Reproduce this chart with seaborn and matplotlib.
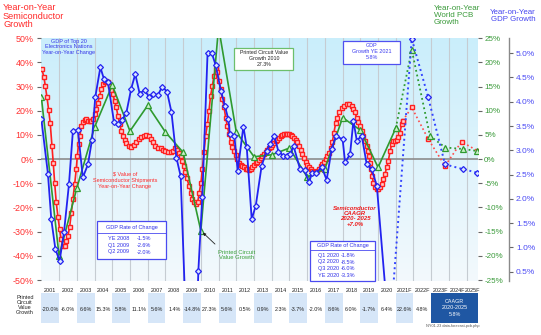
import numpy as np
import matplotlib
matplotlib.use("Agg")
import matplotlib.pyplot as plt
import seaborn as sns
from matplotlib.patches import Rectangle, FancyArrowPatch
from matplotlib.lines import Line2D

# ---------------- data ----------------
# Semiconductor $ shipments, year-on-year growth (%), monthly readings
semi_x = [2001.03, 2001.15, 2001.22, 2001.32, 2001.41, 2001.50, 2001.60, 2001.67, 2001.75, 2001.84, 2001.94,
          2002.03, 2002.12, 2002.22, 2002.31, 2002.41, 2002.50, 2002.60, 2002.69, 2002.78, 2002.88, 2002.97,
          2003.03, 2003.10, 2003.18, 2003.25, 2003.35, 2003.44, 2003.54, 2003.63, 2003.73, 2003.82, 2003.91,
          2004.01, 2004.10, 2004.19, 2004.29, 2004.38, 2004.48, 2004.57, 2004.66, 2004.76, 2004.85, 2004.95,
          2005.04, 2005.13, 2005.23, 2005.32, 2005.42, 2005.51, 2005.61, 2005.70, 2005.80, 2005.93,
          2006.08, 2006.23, 2006.36, 2006.49, 2006.64, 2006.79, 2006.92,
          2007.05, 2007.17, 2007.30, 2007.43, 2007.58, 2007.73, 2007.86, 2007.99,
          2008.14, 2008.29, 2008.43, 2008.56, 2008.67, 2008.77, 2008.86, 2008.94,
          2009.03, 2009.12, 2009.22, 2009.33, 2009.44, 2009.52, 2009.63, 2009.72, 2009.82, 2009.91,
          2010.01, 2010.08, 2010.18, 2010.27, 2010.37, 2010.46, 2010.55, 2010.65, 2010.74, 2010.83, 2010.93,
          2011.02, 2011.12, 2011.21, 2011.31, 2011.40, 2011.49, 2011.59, 2011.68, 2011.78, 2011.87, 2011.97,
          2012.06, 2012.15, 2012.25, 2012.34, 2012.44, 2012.53, 2012.62, 2012.72, 2012.81, 2012.91,
          2013.00, 2013.10, 2013.19, 2013.28, 2013.38, 2013.47, 2013.56, 2013.66, 2013.75, 2013.85, 2013.94,
          2014.03, 2014.13, 2014.22, 2014.32, 2014.41, 2014.51, 2014.60, 2014.69, 2014.79, 2014.88, 2014.98,
          2015.07, 2015.16, 2015.26, 2015.35, 2015.45, 2015.54, 2015.64, 2015.73, 2015.82, 2015.92,
          2016.01, 2016.11, 2016.20, 2016.29, 2016.39, 2016.48, 2016.57, 2016.67, 2016.76, 2016.85, 2016.95,
          2017.04, 2017.14, 2017.23, 2017.33, 2017.42, 2017.51, 2017.61, 2017.70, 2017.81, 2017.95,
          2018.08, 2018.23, 2018.38, 2018.51, 2018.60, 2018.70, 2018.79, 2018.89, 2018.98,
          2019.07, 2019.17, 2019.26, 2019.36, 2019.45, 2019.51, 2019.54, 2019.60, 2019.66, 2019.73, 2019.83, 2019.92,
          2020.02, 2020.11, 2020.20, 2020.30, 2020.39, 2020.49, 2020.58, 2020.68, 2020.77, 2020.87, 2020.96,
          2021.05, 2021.15, 2021.24, 2021.33, 2021.39]
semi_y = [37.2, 33.8, 30.3, 25.5, 20.4, 14.9, 5.5, -1.4, -9.7, -17.9, -24.1,
          -29.0, -33.1, -35.9, -36.1, -33.8, -31.7, -27.9, -22.1, -16.6, -10.3, -4.1,
          1.4, 6.2, 9.7, 13.8, 15.4, 16.3, 16.6, 15.9, 15.6, 15.6, 16.8,
          18.6, 20.7, 23.4, 26.2, 29.0, 31.0, 32.0, 32.4, 31.7, 30.1, 28.7,
          26.9, 24.1, 21.4, 17.9, 14.5, 11.7, 9.7, 8.0, 6.6, 5.5,
          5.1, 5.8, 7.2, 8.3, 9.1, 9.7, 9.8,
          9.4, 8.3, 6.9, 5.5, 4.8, 4.4, 3.9, 3.4,
          3.0, 2.8, 3.4, 4.4, 3.9, 2.5, 1.1, -0.7,
          -3.0, -5.5, -8.0, -11.0, -13.8, -16.6, -17.9, -18.6, -17.9, -13.8,
          -9.7, -4.1, 2.8, 9.7, 14.5, 20.0, 26.2, 30.3, 34.5, 37.2, 35.9,
          32.4, 29.0, 24.8, 21.4, 17.2, 13.8, 10.3, 7.2, 5.2, 3.4, 1.7,
          0.0, -1.4, -2.3, -3.0, -3.4, -3.9, -4.1, -4.4, -4.1, -3.4,
          -2.5, -1.7, -1.0, -0.3, 0.6, 1.4, 2.2, 3.0, 3.7, 4.4, 5.1,
          5.9, 6.6, 7.4, 8.1, 8.8, 9.4, 9.9, 10.2, 10.3, 10.3, 10.2,
          9.9, 9.4, 8.7, 7.9, 6.9, 5.5, 3.9, 2.1, 0.4, -1.1,
          -2.3, -3.2, -3.9, -4.7, -5.2, -5.5, -5.1, -4.1, -3.0, -2.1, -1.0,
          0.0, 1.1, 2.5, 4.5, 7.0, 11.0, 14.9, 17.2, 19.3, 21.0,
          22.1, 22.8, 22.8, 22.1, 20.7, 19.3, 17.2, 15.4, 13.8,
          11.7, 9.7, 7.6, 5.5, 3.4, 1.4, -1.4, -4.1, -6.9, -9.7, -11.7, -12.4,
          -12.4, -11.7, -10.3, -8.3, -6.2, -3.4, -0.7, 3.4, 6.2, 7.6, 7.6,
          8.0, 9.0, 11.0, 14.5, 15.9]
semi_fc_x = [2021.39, 2021.90, 2022.83, 2023.78, 2024.71, 2025.62]
semi_fc_y = [15.9, 21.4, 8.3, -2.8, 7.2, 3.4]

# World PCB growth (%), annual values plotted at year end
pcb_x = [2001.0, 2002.0, 2003.0, 2004.0, 2005.0, 2006.0, 2007.0, 2008.0, 2009.0, 2010.0, 2011.0,
         2012.0, 2013.0, 2014.0, 2015.0, 2016.0, 2017.0, 2018.0, 2019.0, 2020.0, 2021.0]
pcb_y = [12.8, -20.0, -6.0, 6.6, 15.3, 5.8, 11.1, 5.6, 1.4, -14.8, 27.3,
         5.6, 0.5, 0.9, 2.3, -3.7, -2.0, 8.6, 6.0, -1.7, 6.4]
pcb_fc_x = [2021.0, 2021.90, 2022.93, 2023.80, 2024.80, 2025.56]
pcb_fc_y = [6.4, 22.6, 4.8, 2.4, 2.1, 1.7]

# GDP of top 20 electronics nations, year-on-year (%), quarterly readings
gdp_x = [2001.00, 2001.37, 2001.56, 2001.79, 2002.03, 2002.28, 2002.56, 2002.78, 2003.06, 2003.34,
         2003.63, 2003.86, 2004.04, 2004.33, 2004.53, 2004.76, 2005.10, 2005.32, 2005.56, 2005.79,
         2006.07, 2006.30, 2006.55, 2006.83, 2007.08, 2007.30, 2007.58, 2007.82, 2008.09, 2008.34,
         2008.62, 2008.86, 2009.25, 2009.45, 2009.65, 2009.86, 2010.08, 2010.38, 2010.61, 2010.84,
         2011.13, 2011.36, 2011.55, 2011.64, 2011.89, 2012.08, 2012.40, 2012.59, 2012.87, 2013.10,
         2013.43, 2013.71, 2013.90, 2014.15, 2014.38, 2014.66, 2014.85, 2015.04, 2015.23, 2015.60,
         2015.85, 2016.11, 2016.27, 2016.51, 2016.83, 2017.10, 2017.38, 2017.62, 2018.00, 2018.14,
         2018.42, 2018.61, 2018.80, 2019.08, 2019.36, 2019.64, 2019.93, 2020.85]
gdp_y = [3.64, 2.52, 1.58, 0.97, 0.72, 1.32, 2.31, 3.40, 3.42, 2.44,
         2.71, 3.22, 4.09, 4.71, 4.47, 4.40, 3.58, 3.54, 3.63, 3.76,
         4.27, 4.57, 4.16, 4.25, 4.09, 4.16, 4.14, 4.31, 4.21, 3.79,
         2.85, 2.47, -1.5, -2.6, -2.0, 0.52, 2.03, 5.01, 5.01, 4.75,
         4.23, 3.91, 3.64, 3.33, 3.30, 2.58, 3.49, 3.06, 1.58, 1.86,
         2.68, 2.99, 3.13, 3.30, 2.97, 2.89, 2.89, 2.92, 3.09, 2.61,
         2.59, 2.34, 2.53, 2.54, 2.65, 2.39, 3.02, 3.29, 3.23, 2.75,
         2.92, 3.61, 3.20, 3.30, 2.71, 2.61, 2.27, -1.8]
gdp_fc_x = [2020.15, 2021.90, 2022.83, 2023.78, 2024.81, 2025.60]
gdp_fc_y = [-3.3, 5.3, 4.09, 2.71, 2.61, 2.54]

# bottom table
table_years = list(range(2001, 2026))
table_labels = [str(y) for y in range(2001, 2021)] + ["2021F", "2022F", "2023F", "2024F", "2025F"]
table_values = [-20.0, -6.0, 6.6, 15.3, 5.8, 11.1, 5.6, 1.4, -14.8, 27.3, 5.6, 0.5, 0.9, 2.3,
                -3.7, -2.0, 8.6, 6.0, -1.7, 6.4, 22.6, 4.8]

semi_ticks = list(range(-50, 51, 10))
pcb_ticks = list(range(-25, 26, 5))
gdp_ticks = [0.5, 1.0, 1.5, 2.0, 2.5, 3.0, 3.5, 4.0, 4.5, 5.0]

# ---------------- styling ----------------
sns.set_theme(style="white")
plt.rcParams['font.family'] = ['Liberation Sans', 'DejaVu Sans']

RED = '#ff2020'
GREEN = '#2f9a2f'
BLUE = '#2222f0'
W, H = 541, 335
fig = plt.figure(figsize=(W / 100, H / 100), dpi=100)


def fx(px):
    return px / W


def fy(py):
    return 1 - py / H


PL, PR, PT, PB = 41, 478, 38, 281
XMIN, XMAX = 2000.98, 2025.64
ax = fig.add_axes([fx(PL), fy(PB), (PR - PL) / W, (PB - PT) / H])
ax.set_zorder(1)

# gradient background
top = np.array([202, 238, 251]) / 255
bot = np.array([243, 249, 253]) / 255
t = np.linspace(0, 1, 200)[:, None, None]
grad = top * (1 - t) + bot * t
ax.imshow(grad, extent=[XMIN, XMAX, -50.4, 50.1], aspect='auto', zorder=0, interpolation='bilinear')
ax.set_xlim(XMIN, XMAX)
ax.set_ylim(-50.4, 50.1)
for yr in range(2002, 2026):
    ax.axvline(yr, color='#c6ccd2', lw=0.8, zorder=1)
ax.axhline(0, color='#8c8c8c', lw=1.2, zorder=2)

ax2 = ax.twinx()
ax2.set_ylim(-25.2, 25.05)
ax3 = ax.twinx()
ax3.set_ylim(0.308, 5.313)
for a in (ax2, ax3):
    a.set_xlim(XMIN, XMAX)

# series
sns.lineplot(x=pcb_x, y=pcb_y, ax=ax2, color=GREEN, lw=1.2, marker='^', markersize=4.4,
             markerfacecolor='#c8f0c8', markeredgecolor=GREEN, markeredgewidth=0.9,
             estimator=None, sort=False, zorder=3)
sns.lineplot(x=pcb_fc_x, y=pcb_fc_y, ax=ax2, color=GREEN, lw=1.3, linestyle=':', marker='^', markersize=4.4,
             markerfacecolor='#c8f0c8', markeredgecolor=GREEN, markeredgewidth=0.9,
             estimator=None, sort=False, zorder=3)

sns.lineplot(x=semi_x, y=semi_y, ax=ax, color=RED, lw=1.2, marker='s', markersize=3.5,
             markerfacecolor='#ffcccc', markeredgecolor=RED, markeredgewidth=1.0,
             estimator=None, sort=False, zorder=4)
sns.lineplot(x=semi_fc_x, y=semi_fc_y, ax=ax, color='#ff4a4a', lw=1.2, linestyle=':', marker='s', markersize=3.5,
             markerfacecolor='#ffcccc', markeredgecolor=RED, markeredgewidth=1.0,
             estimator=None, sort=False, zorder=4)

sns.lineplot(x=gdp_x, y=gdp_y, ax=ax3, color=BLUE, lw=1.3, marker='D', markersize=3.0,
             markerfacecolor='#d8e4ff', markeredgecolor=BLUE, markeredgewidth=0.9,
             estimator=None, sort=False, zorder=5)
sns.lineplot(x=gdp_fc_x, y=gdp_fc_y, ax=ax3, color='#3344ff', lw=1.4, linestyle=':', marker='D', markersize=3.0,
             markerfacecolor='#d8e4ff', markeredgecolor=BLUE, markeredgewidth=0.9,
             estimator=None, sort=False, zorder=5)

# axes / ticks
for a in (ax, ax2, ax3):
    a.set_xticks([])
    a.set_xlabel('')
    a.set_ylabel('')
    for s in a.spines.values():
        s.set_visible(False)
    a.grid(False)

ax.set_yticks(semi_ticks)
ax.set_yticklabels([f"{v}%" for v in semi_ticks])
ax.tick_params(axis='y', left=True, length=3, width=0.8, color='#666666', labelcolor='#ff3030',
               labelsize=6.4, pad=2.5)

ax2.set_yticks(pcb_ticks)
ax2.set_yticklabels([f"{v}%" for v in pcb_ticks])
ax2.tick_params(axis='y', right=True, length=3, width=0.8, color='#666666', labelcolor='#3a9a3a',
                labelsize=5.8, pad=1.5)

ax3.spines['right'].set_visible(True)
ax3.spines['right'].set_position(('outward', 22.3))
ax3.spines['right'].set_color('#8a8a8a')
ax3.spines['right'].set_linewidth(1.0)
ax3.set_yticks(gdp_ticks)
ax3.set_yticklabels([f"{v:.1f}%" for v in gdp_ticks])
ax3.tick_params(axis='y', right=True, length=3, width=0.8, color='#666666', labelcolor='#4b4bf5',
                labelsize=6.0, pad=2)

# axis titles
fig.text(fx(3), fy(3), "Year-on-Year\nSemiconductor\nGrowth", ha='left', va='top',
         color='#ff2a2a', fontsize=6.6, linespacing=0.95)
fig.text(fx(434), fy(4.5), "Year-on-Year\nWorld PCB\nGrowth", ha='left', va='top',
         color='#3a9a3a', fontsize=5.8, linespacing=1.05)
fig.text(fx(536), fy(8.5), "Year-on-Year\nGDP Growth", ha='right', va='top',
         color='#4646f0', fontsize=5.7, linespacing=1.1)

# annotations
fig.text(fx(68.5), fy(39), "GDP of Top 20\nElectronics Nations\nYear-on-Year Change", ha='center', va='top',
         color='#3535e8', fontsize=4.0, linespacing=1.1)
fig.add_artist(FancyArrowPatch((fx(85), fy(57.5)), (fx(94), fy(71.5)),
               transform=fig.transFigure, arrowstyle='-|>', mutation_scale=4, color='#222222', lw=0.6))

fig.text(fx(125), fy(172), "$ Value of\nSemiconductor Shipments\nYear-on-Year Change", ha='center', va='top',
         color='#ff2a2a', fontsize=4.0, linespacing=1.25)
fig.add_artist(FancyArrowPatch((fx(132.7), fy(173)), (fx(132.7), fy(151.5)),
               transform=fig.transFigure, arrowstyle='-|>', mutation_scale=4, color='#222222', lw=0.6))

# PCB 2010 box
fig.add_artist(Rectangle((fx(234.3), fy(70)), 59 / W, 22.3 / H, transform=fig.transFigure,
                         fc='white', ec='#6cbf6c', lw=0.9, zorder=10))
fig.text(fx(263.8), fy(58.6), "Printed Circuit Value\nGrowth 2010\n27.3%", ha='center', va='center',
         color='#222222', fontsize=3.8, linespacing=1.15, zorder=11)
fig.add_artist(FancyArrowPatch((fx(234.3), fy(58)), (fx(221), fy(38.5)),
               transform=fig.transFigure, arrowstyle='-', color='#3a9a3a', lw=0.8,
               connectionstyle='angle3,angleA=180,angleB=75'))

# GDP 2021 box
fig.add_artist(Rectangle((fx(343.3), fy(63.8)), 56.7 / W, 23.3 / H, transform=fig.transFigure,
                         fc='white', ec='#5050f0', lw=0.9, zorder=10))
fig.text(fx(371.7), fy(51.5), "GDP\nGrowth YE 2021\n5.8%", ha='center', va='center',
         color='#3a3af0', fontsize=3.9, linespacing=1.3, zorder=11)


def rate_box(x0, y0, x1, y1, hdr_y, sep_y, rows, row_y, lab_x, val_x):
    fig.add_artist(Rectangle((fx(x0), fy(y1)), (x1 - x0) / W, (y1 - y0) / H, transform=fig.transFigure,
                             fc='white', ec='#4a4af0', lw=0.9, zorder=10))
    fig.add_artist(Line2D([fx(x0), fx(x1)], [fy(sep_y), fy(sep_y)], transform=fig.transFigure,
                          color='#4a4af0', lw=0.6, zorder=11))
    fig.text(fx((x0 + x1) / 2), fy(hdr_y), "GDP Rate of Change", ha='center', va='center',
             color='#3030e8', fontsize=4.0, zorder=11)
    for (lab, val), yy in zip(rows, row_y):
        fig.text(fx(lab_x), fy(yy), lab, ha='left', va='center', color='#3030e8', fontsize=4.0, zorder=11)
        fig.text(fx(val_x), fy(yy), val, ha='left', va='center', color='#3030e8', fontsize=4.0, zorder=11)


rate_box(97.3, 221, 166.3, 258.7, 227.7, 232.7,
         [("YE 2008", "-1.5%"), ("Q1 2009", "-2.6%"), ("Q2 2009", "-2.0%")],
         [238.7, 245.3, 252], 108, 137)
fig.add_artist(FancyArrowPatch((fx(166.3), fy(236)), (fx(185), fy(277)),
               transform=fig.transFigure, arrowstyle='-|>', mutation_scale=4, color='#4a4af0', lw=0.7,
               connectionstyle='arc3,rad=-0.4'))

rate_box(310, 241, 375, 281, 245.3, 249.5,
         [("Q1 2020", "-1.8%"), ("Q2 2020", "-8.5%"), ("Q3 2020", "-6.0%"), ("YE 2020", "-3.3%")],
         [255.3, 262, 268.7, 275.5], 318, 341)
fig.add_artist(FancyArrowPatch((fx(375), fy(253)), (fx(391.7), fy(276)),
               transform=fig.transFigure, arrowstyle='-|>', mutation_scale=4, color='#4a4af0', lw=0.7,
               connectionstyle='arc3,rad=-0.4'))

fig.text(fx(236.7), fy(255), "Printed Circuit\nValue Growth", ha='center', va='center',
         color='#3aa03a', fontsize=4.2, linespacing=1.2)
ax2.annotate('', xy=(pcb_x[9], pcb_y[9]), xycoords='data', xytext=(fx(217), fy(246)),
             textcoords='figure fraction',
             arrowprops=dict(arrowstyle='-|>', mutation_scale=4, color='#222222', lw=0.6))

fig.text(fx(355), fy(206), "Semiconductor\nCAAGR\n2020- 2025\n+7.0%", ha='center', va='top',
         color='#ee1c1c', fontsize=4.3, fontweight='bold', fontstyle='italic', linespacing=1.05)

# ---------------- bottom table ----------------
tax = fig.add_axes([fx(PL), fy(325), (PR - PL) / W, 41 / H])
tax.set_xlim(XMIN, XMAX)
tax.set_ylim(0, 1)
tax.axis('off')
for i, yr in enumerate(table_years):
    x0 = yr
    x1 = min(yr + 1, XMAX)
    cx = (x0 + x1) / 2
    if i % 2 == 0 and yr <= 2021:
        tax.add_patch(Rectangle((x0, 0.049), x1 - x0, 0.73, fc='#d6e6f8', ec='none'))
    tax.text(cx, 0.83, table_labels[i], ha='center', va='center', fontsize=3.9, color='#222222', clip_on=False)
    if i < len(table_values):
        tax.text(cx, 0.39, f"{table_values[i]:.1f}%", ha='center', va='center', fontsize=3.9,
                 color='#222222', clip_on=False)
tax.add_patch(Rectangle((2023, 0.049), XMAX - 2023, 0.73, fc='#1f57a3', ec='none'))
tax.text((2023 + XMAX) / 2, 0.415, "CAAGR\n2020-2025\n5.8%", ha='center', va='center', fontsize=3.9,
         color='white', linespacing=1.3)

fig.text(fx(25), fy(305), "Printed\nCircuit\nValue\nGrowth", ha='center', va='center',
         fontsize=4.0, color='#222222', linespacing=1.05)
fig.text(fx(453), fy(326), "NY01.23 data-forecast-pcb.php", ha='center', va='center',
         fontsize=2.8, color='#555555')

fig.savefig("out.png", dpi=100)
